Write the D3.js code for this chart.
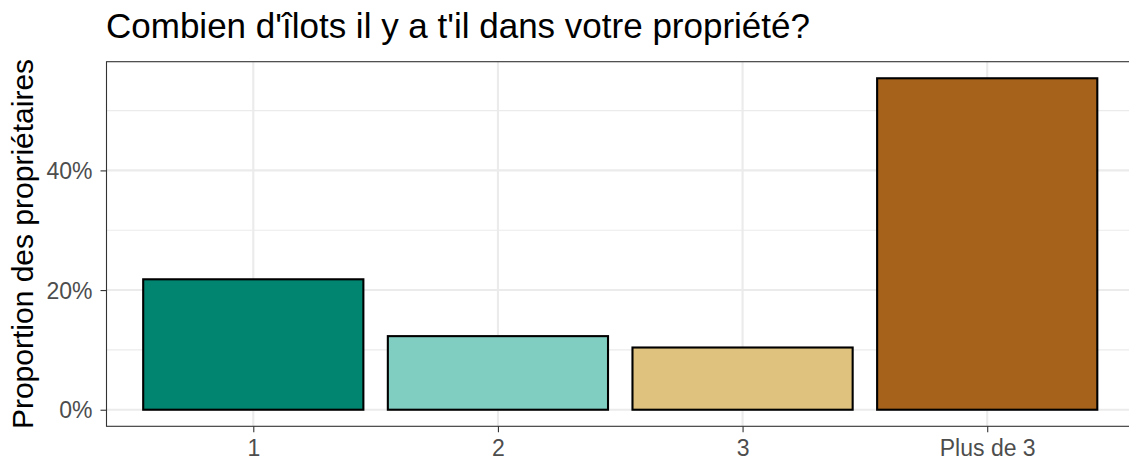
<!DOCTYPE html>
<html><head><meta charset="utf-8">
<script src="https://cdn.jsdelivr.net/npm/d3@7"></script>
<style>body{margin:0;background:#fff}svg{display:block}text{font-family:"Liberation Sans",Arial,sans-serif}</style>
</head><body>
<svg id="c" width="1129" height="459"></svg>
<script>
const categories = ["1", "2", "3", "Plus de 3"];
const values = [0.218, 0.123, 0.104, 0.554];
const colors = ["#018571", "#80cdc1", "#dfc27d", "#a6611a"];
const yTicks = [0, 0.2, 0.4];
const yMinor = [0.1, 0.3, 0.5];
const title = "Combien d'îlots il y a t'il dans votre propriété?";
const yLabel = "Proportion des propriétaires";

const svg = d3.select("#c");
const L = 106.5, T = 61.7, R = 1134, B = 426.3;
const maxV = d3.max(values);
// ggplot discrete scale: 0.6 units of expansion on each side
const step = (R - L) / (categories.length + 0.2);
const xs = d3.scalePoint().domain(categories)
  .range([L + step * 0.6, L + step * (categories.length - 0.4)]);
const y = d3.scaleLinear().domain([-0.05 * maxV, maxV * 1.05]).range([B, T]);

const g = svg.append("g");
g.selectAll("line.minor").data(yMinor).enter().append("line")
  .attr("x1", L).attr("x2", R).attr("y1", d => y(d)).attr("y2", d => y(d))
  .attr("stroke", "#ebebeb").attr("stroke-width", 1.1);
g.selectAll("line.major").data(yTicks).enter().append("line")
  .attr("x1", L).attr("x2", R).attr("y1", d => y(d)).attr("y2", d => y(d))
  .attr("stroke", "#ebebeb").attr("stroke-width", 2.1);
g.selectAll("line.vx").data(categories).enter().append("line")
  .attr("x1", d => xs(d)).attr("x2", d => xs(d)).attr("y1", T).attr("y2", B)
  .attr("stroke", "#ebebeb").attr("stroke-width", 2.1);

// bars
g.selectAll("rect.bar").data(categories).enter().append("rect")
  .attr("x", d => xs(d) - step * 0.45)
  .attr("width", step * 0.9)
  .attr("y", (d, i) => y(values[i]))
  .attr("height", (d, i) => y(0) - y(values[i]))
  .attr("fill", (d, i) => colors[i])
  .attr("stroke", "#000").attr("stroke-width", 2.1);

// panel border
svg.append("rect").attr("x", L).attr("y", T).attr("width", R - L).attr("height", B - T)
  .attr("fill", "none").attr("stroke", "#333").attr("stroke-width", 1.1);

// y axis
const ya = svg.append("g").attr("transform", `translate(${L},0)`)
  .call(d3.axisLeft(y).tickValues(yTicks).tickFormat(d3.format(".0%")).tickSize(6).tickPadding(8));
ya.select(".domain").remove();
ya.selectAll("line").attr("stroke", "#333").attr("stroke-width", 1.1);
ya.selectAll("text").attr("fill", "#4d4d4d").style("font-size", "23px").attr("dy", "0.35em");

// x axis
const xa = svg.append("g").attr("transform", `translate(0,${B})`)
  .call(d3.axisBottom(xs).tickSize(6).tickPadding(7));
xa.select(".domain").remove();
xa.selectAll("line").attr("stroke", "#333").attr("stroke-width", 1.1);
xa.selectAll("text").attr("fill", "#4d4d4d").style("font-size", "23px");

// labels
svg.append("text").attr("x", 106).attr("y", 37.5).attr("fill", "#000")
  .style("font-size", "35px").text(title);
svg.append("text").attr("transform", `translate(33,${(T + B) / 2}) rotate(-90)`)
  .attr("text-anchor", "middle").attr("fill", "#000").style("font-size", "30px").text(yLabel);
</script>
</body></html>
